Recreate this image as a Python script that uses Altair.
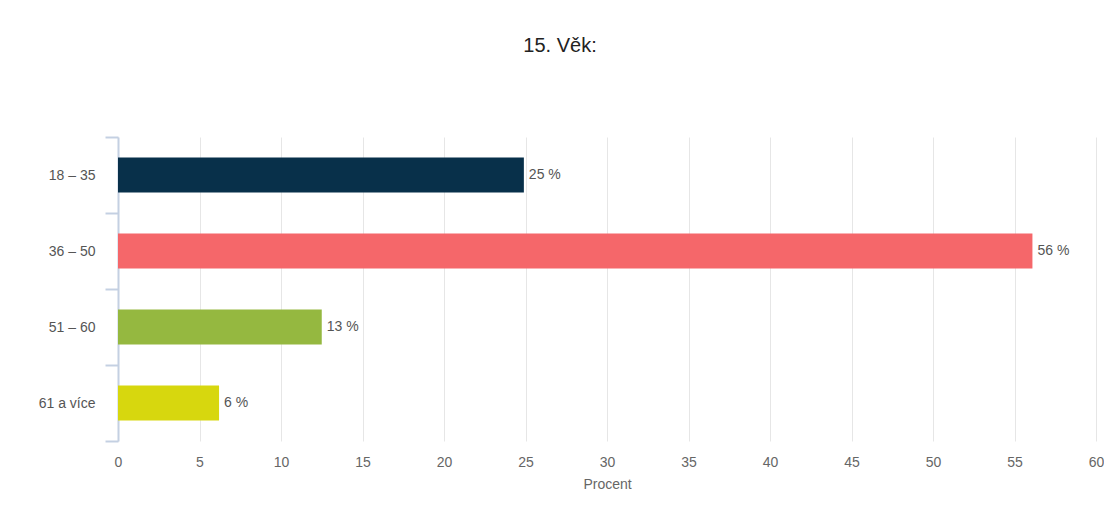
import altair as alt
import pandas as pd

categories = ["18 – 35", "36 – 50", "51 – 60", "61 a více"]
values = [24.9, 56.1, 12.5, 6.2]
labels = ["25 %", "56 %", "13 %", "6 %"]
colors = ["#08304a", "#f5676a", "#95b840", "#d7d70e"]
x_ticks = list(range(0, 61, 5))

df = pd.DataFrame({"cat": categories, "val": values, "lab": labels})

FONT = "Liberation Sans"

y_enc = alt.Y(
    "cat:N",
    sort=categories,
    scale=alt.Scale(paddingInner=0, paddingOuter=0),
    axis=alt.Axis(
        title=None,
        tickBand="extent",
        domainColor="#c4d0e2",
        domainWidth=2,
        tickColor="#c4d0e2",
        tickWidth=2,
        tickSize=13,
        labelPadding=10,
        labelColor="#555555",
        labelFont=FONT,
        labelFontSize=14,
        grid=False,
    ),
)

x_enc = alt.X(
    "val:Q",
    scale=alt.Scale(domain=[0, 60], nice=False),
    axis=alt.Axis(
        title="Procent",
        values=x_ticks,
        domain=False,
        ticks=False,
        labelFlush=False,
        labelPadding=14,
        labelColor="#666666",
        labelFont=FONT,
        labelFontSize=14,
        titleColor="#666666",
        titleFont=FONT,
        titleFontSize=14,
        titleFontWeight="normal",
        titlePadding=8,
        grid=True,
        gridColor="#e6e6e6",
        gridWidth=1,
    ),
)

bars = alt.Chart(df).mark_bar(size=35).encode(
    x=x_enc,
    y=y_enc,
    color=alt.Color("cat:N", sort=categories,
                    scale=alt.Scale(domain=categories, range=colors), legend=None),
)

text = alt.Chart(df).mark_text(
    align="left", baseline="middle", dx=5, font=FONT, fontSize=14, color="#555555"
).encode(
    x=x_enc,
    y=y_enc,
    text="lab:N",
)

chart = (
    alt.layer(bars, text)
    .properties(
        width=978,
        height=304,
        background="white",
        autosize=alt.AutoSizeParams(type="none"),
        padding={"left": 110, "top": 129, "right": 8, "bottom": 55},
        title=alt.TitleParams(
            "15. Věk:",
            anchor="middle",
            font=FONT,
            fontSize=20,
            fontWeight="normal",
            color="#222222",
            offset=74,
            dx=-47,
        ),
    )
    .configure_view(strokeWidth=0, stroke="transparent")
)

chart.save("out.html", embed_options={"renderer": "svg", "actions": False})
